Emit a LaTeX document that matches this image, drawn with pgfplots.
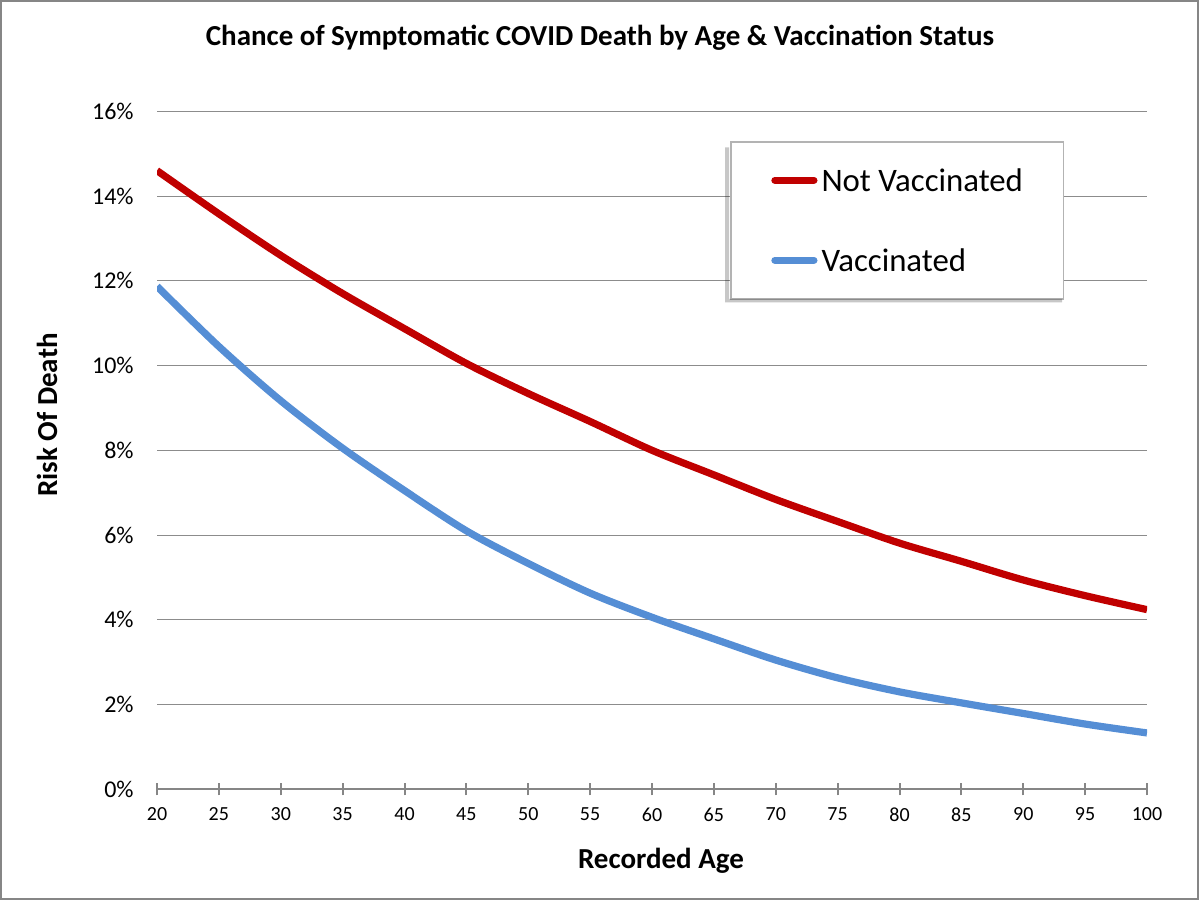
\documentclass[border=0pt]{standalone}
\usepackage{pgfplots}
\pgfplotsset{compat=1.18}
\usepackage{fontspec}
\setmainfont{Carlito}

\definecolor{notvax}{HTML}{C00000}
\definecolor{vax}{HTML}{558ED5}
\definecolor{axisgray}{HTML}{868686}
\definecolor{gridgray}{HTML}{8C8C8C}
\definecolor{legendgray}{HTML}{B3B3B3}

\begin{document}
\begin{tikzpicture}
% picture = 1200 x 901 px at 0.5pt per px, origin at the plot's lower left corner
\path[use as bounding box] (-78.5pt,-55.85pt) rectangle (521.5pt,394.65pt);
\begin{axis}[
  at={(0,0)}, anchor=south west,
  scale only axis, width=495pt, height=339pt,
  xmin=20, xmax=100, ymin=0, ymax=16,
  axis x line=bottom, axis y line=left,
  x axis line style={-, draw=axisgray, line width=1pt},
  y axis line style={draw=none},
  xtick={20,25,...,100},
  ytick={0,2,...,16},
  yticklabels={0\%,2\%,4\%,6\%,8\%,10\%,12\%,14\%,16\%},
  xtick align=center, ytick align=inside,
  major tick length=6pt,
  xtick style={draw=axisgray, line width=1pt},
  ytick style={draw=none},
  ymajorgrids,
  major grid style={draw=gridgray, line width=0.5pt},
  yticklabel style={font=\fontsize{12}{14}\selectfont, inner sep=0pt, xshift=-11.5pt},
  xticklabel style={font=\fontsize{10}{12}\selectfont, inner sep=0pt, yshift=-6pt},
  /pgf/number format/assume math mode=true,
  legend cell align=left,
  legend image code/.code={\draw[#1, line cap=round] (0pt,0pt) -- (19.5pt,0pt);},
  legend style={at={(axis description cs:0.5788,0.9562)}, anchor=north west,
    draw=legendgray, line width=0.8pt, fill=white,
    inner xsep=20.25pt, inner ysep=11pt,
    font=\fontsize{16.4}{19}\selectfont,
    nodes={inner sep=0pt, text height=14pt, text depth=2.5pt},
    column sep=2pt, row sep=23.5pt},
]
\addplot[notvax, line width=3.6pt, line join=round, smooth] coordinates {
  (20,14.60) (25,13.58) (30,12.60) (35,11.70) (40,10.87) (45,10.05)
  (50,9.34) (55,8.68) (60,8.00) (65,7.42) (70,6.84) (75,6.32)
  (80,5.81) (85,5.38) (90,4.94) (95,4.57) (100,4.24)
};
\addlegendentry{Not Vaccinated}
\addplot[vax, line width=3.6pt, line join=round, smooth] coordinates {
  (20,11.87) (25,10.45) (30,9.17) (35,8.05) (40,7.05) (45,6.10)
  (50,5.33) (55,4.63) (60,4.06) (65,3.55) (70,3.05) (75,2.63)
  (80,2.30) (85,2.04) (90,1.79) (95,1.54) (100,1.33)
};
\addlegendentry{Vaccinated}
\end{axis}
% soft shadow on the left and lower side of the legend box
\fill[black, opacity=0.22] (284pt,321pt) -- (286.1pt,321pt) -- (286.1pt,245.25pt)
  -- (452.5pt,245.25pt) -- (452.5pt,243.4pt) -- (284pt,243.4pt) -- cycle;
\node[font=\bfseries\fontsize{14.5}{17}\selectfont] at (221.5pt,375.65pt)
  {Chance of Symptomatic COVID Death by Age \& Vaccination Status};
\node[rotate=90, font=\bfseries\fontsize{14.5}{17}\selectfont] at (-55pt,187.15pt) {Risk Of Death};
\node[font=\bfseries\fontsize{14.5}{17}\selectfont] at (252pt,-35.85pt) {Recorded Age};
\draw[axisgray, line width=1pt] (-78pt,-54.85pt) rectangle (520.5pt,394.15pt);
\end{tikzpicture}
\end{document}
